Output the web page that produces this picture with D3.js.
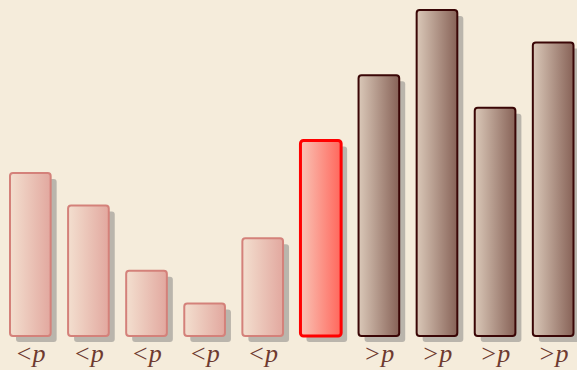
<!DOCTYPE html>
<html><head><meta charset="utf-8">
<script src="https://cdn.jsdelivr.net/npm/d3@7"></script>
<style>html,body{margin:0;padding:0;background:#f5ecdb;}svg{display:block;}</style>
</head><body>
<script>
const values = [5, 4, 2, 1, 3, 6, 8, 10, 7, 9];
const labels = ["<p", "<p", "<p", "<p", "<p", "", ">p", ">p", ">p", ">p"];
const groups = ["low", "low", "low", "low", "low", "pivot", "high", "high", "high", "high"];

const W = 577, H = 370;
const svg = d3.select("body").append("svg").attr("width", W).attr("height", H);
svg.append("rect").attr("width", W).attr("height", H).attr("fill", "#f5ecdb");

const x = d3.scaleBand().domain(d3.range(values.length)).range([10, 573.5]).paddingInner(0.3).paddingOuter(0);
const y = d3.scaleLinear().domain([0, 10]).range([336, 10]);

const styles = {
  low: {from: "#f3dfcf", to: "#e2a89f", stroke: "#d4817a", sw: 2},
  pivot: {from: "#f9c4b6", to: "#ff675c", stroke: "#ff0000", sw: 3},
  high: {from: "#dac8b8", to: "#876257", stroke: "#3a0606", sw: 2}
};
const defs = svg.append("defs");
Object.entries(styles).forEach(([k, s]) => {
  const g = defs.append("linearGradient").attr("id", "g-" + k).attr("x1", 0).attr("x2", 1).attr("y1", 0).attr("y2", 0);
  g.append("stop").attr("offset", 0).attr("stop-color", s.from);
  g.append("stop").attr("offset", 1).attr("stop-color", s.to);
});

const bw = x.bandwidth();
const data = values.map((v, i) => ({v, i, g: groups[i], l: labels[i]}));

svg.selectAll("rect.shadow").data(data).join("rect").attr("class", "shadow")
  .attr("x", d => x(d.i) + 6).attr("y", d => y(d.v) + 6)
  .attr("width", bw).attr("height", d => y(0) - y(d.v))
  .attr("rx", 3).attr("fill", "#bab5ac");

svg.selectAll("rect.bar").data(data).join("rect").attr("class", "bar")
  .attr("x", d => x(d.i)).attr("y", d => y(d.v))
  .attr("width", bw).attr("height", d => y(0) - y(d.v))
  .attr("rx", 3)
  .attr("fill", d => `url(#g-${d.g})`)
  .attr("stroke", d => styles[d.g].stroke)
  .attr("stroke-width", d => styles[d.g].sw);

svg.selectAll("text.lab").data(data).join("text").attr("class", "lab")
  .attr("x", d => x(d.i) + bw / 2).attr("y", 362)
  .attr("text-anchor", "middle")
  .attr("font-family", "'Liberation Serif', 'DejaVu Serif', serif")
  .attr("font-style", "italic")
  .attr("font-size", 26)
  .attr("fill", "#6e3a30")
  .text(d => d.l);
</script>
</body></html>
